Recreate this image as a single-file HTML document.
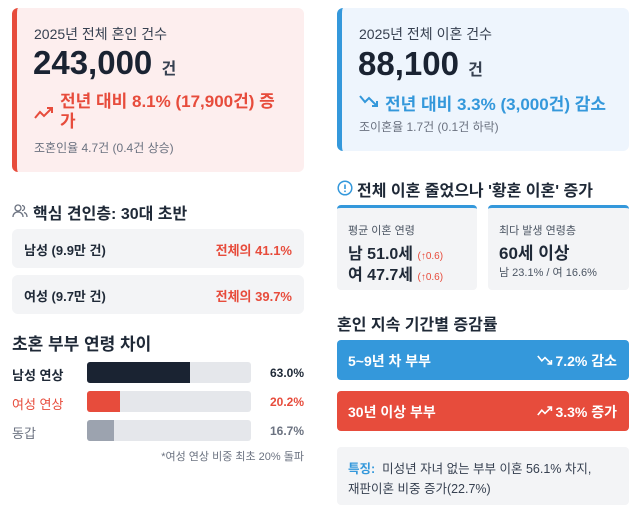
<!DOCTYPE html>
<html><head><meta charset="utf-8"><style>
*{margin:0;padding:0;box-sizing:border-box}
body{width:640px;height:516px;background:#fff;font-family:"Liberation Sans","Noto Sans CJK KR",sans-serif;color:#1f2937;position:relative;overflow:hidden}
.a{position:absolute;white-space:nowrap}
.card{position:absolute;border-radius:6px}
.b{font-weight:bold}
</style></head><body>
<div class="card" style="left:12px;top:8px;width:292px;height:164px;background:#fdeeee;border-left:5px solid #e74c3c"></div>
<div class="a" style="left:34px;top:24px;font-size:14px;color:#374151">2025년 전체 혼인 건수</div>
<div class="a b" style="left:33px;top:44px;font-size:33px;color:#1a2332">243,000 <span style="font-size:16px;color:#374151">건</span></div>
<svg class="a" style="left:34px;top:106px" width="20" height="14" viewBox="0 0 20 14"><polyline points="1,12 6,6 10,10 18,2" fill="none" stroke="#e74c3c" stroke-width="2"/><polyline points="13,2 18,2 18,7" fill="none" stroke="#e74c3c" stroke-width="2"/></svg>
<div class="a b" style="left:60px;top:92px;font-size:17px;line-height:20px;color:#e74c3c">전년 대비 8.1% (17,900건) 증<br>가</div>
<div class="a" style="left:34px;top:139px;font-size:12px;color:#6b7280">조혼인율 4.7건 (0.4건 상승)</div>
<div class="card" style="left:337px;top:8px;width:292px;height:143px;background:#eef5fd;border-left:5px solid #3498db"></div>
<div class="a" style="left:359px;top:24px;font-size:14px;color:#374151">2025년 전체 이혼 건수</div>
<div class="a b" style="left:358px;top:45px;font-size:33px;color:#1a2332">88,100 <span style="font-size:16px;color:#374151">건</span></div>
<svg class="a" style="left:359px;top:94px" width="20" height="14" viewBox="0 0 20 14"><polyline points="1,2 6,8 10,4 18,12" fill="none" stroke="#3498db" stroke-width="2"/><polyline points="13,12 18,12 18,7" fill="none" stroke="#3498db" stroke-width="2"/></svg>
<div class="a b" style="left:385px;top:90px;font-size:17px;color:#3498db">전년 대비 3.3% (3,000건) 감소</div>
<div class="a" style="left:359px;top:118px;font-size:12px;color:#6b7280">조이혼율 1.7건 (0.1건 하락)</div>
<svg class="a" style="left:12px;top:203px" width="16" height="16" viewBox="0 0 16 16"><circle cx="6" cy="5" r="3" fill="none" stroke="#6b7280" stroke-width="1.3"/><path d="M1 14c0-3 2-5 5-5s5 2 5 5" fill="none" stroke="#6b7280" stroke-width="1.3"/><path d="M10 2.5a2.5 2.5 0 0 1 0 5M12 9.5c2 .5 3 2 3 4.5" fill="none" stroke="#6b7280" stroke-width="1.3"/></svg>
<div class="a b" style="left:33px;top:200px;font-size:16px">핵심 견인층: 30대 초반</div>
<div class="card" style="left:12px;top:229px;width:292px;height:39px;background:#f3f4f6"></div>
<div class="a b" style="left:24px;top:240px;font-size:13px">남성 (9.9만 건)</div>
<div class="a b" style="right:348px;top:240px;font-size:13px;color:#e74c3c">전체의 41.1%</div>
<div class="card" style="left:12px;top:275px;width:292px;height:39px;background:#f3f4f6"></div>
<div class="a b" style="left:24px;top:286px;font-size:13px">여성 (9.7만 건)</div>
<div class="a b" style="right:348px;top:286px;font-size:13px;color:#e74c3c">전체의 39.7%</div>
<div class="a b" style="left:12px;top:330px;font-size:17px">초혼 부부 연령 차이</div>
<div class="a b" style="left:12px;top:365px;font-size:13px">남성 연상</div>
<div class="card" style="left:87px;top:362px;width:164px;height:21px;background:#e5e7eb;border-radius:3px"></div>
<div class="card" style="left:87px;top:362px;width:103px;height:21px;background:#1a2332;border-radius:3px 0 0 3px"></div>
<div class="a b" style="right:336px;top:366px;font-size:12px">63.0%</div>
<div class="a" style="left:12px;top:394px;font-size:13px;color:#e74c3c">여성 연상</div>
<div class="card" style="left:87px;top:391px;width:164px;height:21px;background:#e5e7eb;border-radius:3px"></div>
<div class="card" style="left:87px;top:391px;width:33px;height:21px;background:#e74c3c;border-radius:3px 0 0 3px"></div>
<div class="a b" style="right:336px;top:395px;font-size:12px;color:#e74c3c">20.2%</div>
<div class="a" style="left:12px;top:423px;font-size:13px;color:#6b7280">동갑</div>
<div class="card" style="left:87px;top:420px;width:164px;height:21px;background:#e5e7eb;border-radius:3px"></div>
<div class="card" style="left:87px;top:420px;width:27px;height:21px;background:#9ca3af;border-radius:3px 0 0 3px"></div>
<div class="a b" style="right:336px;top:424px;font-size:12px;color:#6b7280">16.7%</div>
<div class="a" style="right:336px;top:448px;font-size:11px;color:#6b7280">*여성 연상 비중 최초 20% 돌파</div>
<svg class="a" style="left:337px;top:180px" width="16" height="16" viewBox="0 0 16 16"><circle cx="8" cy="8" r="6.8" fill="none" stroke="#3498db" stroke-width="1.5"/><line x1="8" y1="4.5" x2="8" y2="9" stroke="#3498db" stroke-width="1.6"/><circle cx="8" cy="11.3" r="0.9" fill="#3498db"/></svg>
<div class="a b" style="left:357px;top:177px;font-size:16px">전체 이혼 줄었으나 '황혼 이혼' 증가</div>
<div class="card" style="left:337px;top:205px;width:140px;height:85px;background:#f3f4f6;border-top:3px solid #3498db;border-radius:4px"></div>
<div class="a" style="left:348px;top:222px;font-size:11px;color:#4b5563">평균 이혼 연령</div>
<div class="a b" style="left:348px;top:240px;font-size:16px">남 51.0세 <span style="font-size:10px;color:#e74c3c;font-weight:normal">(↑0.6)</span></div>
<div class="a b" style="left:348px;top:261px;font-size:16px">여 47.7세 <span style="font-size:10px;color:#e74c3c;font-weight:normal">(↑0.6)</span></div>
<div class="card" style="left:488px;top:205px;width:141px;height:85px;background:#f3f4f6;border-top:3px solid #3498db;border-radius:4px"></div>
<div class="a" style="left:499px;top:222px;font-size:11px;color:#4b5563">최다 발생 연령층</div>
<div class="a b" style="left:499px;top:239px;font-size:17px">60세 이상</div>
<div class="a" style="left:499px;top:264px;font-size:11px;color:#4b5563">남 23.1% / 여 16.6%</div>
<div class="a b" style="left:337px;top:311px;font-size:16px">혼인 지속 기간별 증감률</div>
<div class="card" style="left:337px;top:340px;width:292px;height:40px;background:#3498db;border-radius:4px"></div>
<div class="a b" style="left:348px;top:351px;font-size:14px;color:#fff">5~9년 차 부부</div>
<svg class="a" style="left:537px;top:354px" width="16" height="12" viewBox="0 0 20 14"><polyline points="1,2 6,8 10,4 18,12" fill="none" stroke="#fff" stroke-width="2"/><polyline points="13,12 18,12 18,7" fill="none" stroke="#fff" stroke-width="2"/></svg>
<div class="a b" style="right:23px;top:351px;font-size:14px;color:#fff">7.2% 감소</div>
<div class="card" style="left:337px;top:391px;width:292px;height:40px;background:#e74c3c;border-radius:4px"></div>
<div class="a b" style="left:348px;top:402px;font-size:14px;color:#fff">30년 이상 부부</div>
<svg class="a" style="left:537px;top:405px" width="16" height="12" viewBox="0 0 20 14"><polyline points="1,12 6,6 10,10 18,2" fill="none" stroke="#fff" stroke-width="2"/><polyline points="13,2 18,2 18,7" fill="none" stroke="#fff" stroke-width="2"/></svg>
<div class="a b" style="right:23px;top:402px;font-size:14px;color:#fff">3.3% 증가</div>
<div class="card" style="left:337px;top:447px;width:292px;height:58px;background:#f3f4f6;border-radius:4px"></div>
<div class="a" style="left:348px;top:459px;font-size:12.5px;line-height:20px;color:#374151"><b style="color:#3498db">특징:</b>&nbsp; 미성년 자녀 없는 부부 이혼 56.1% 차지,<br>재판이혼 비중 증가(22.7%)</div>
</body></html>
